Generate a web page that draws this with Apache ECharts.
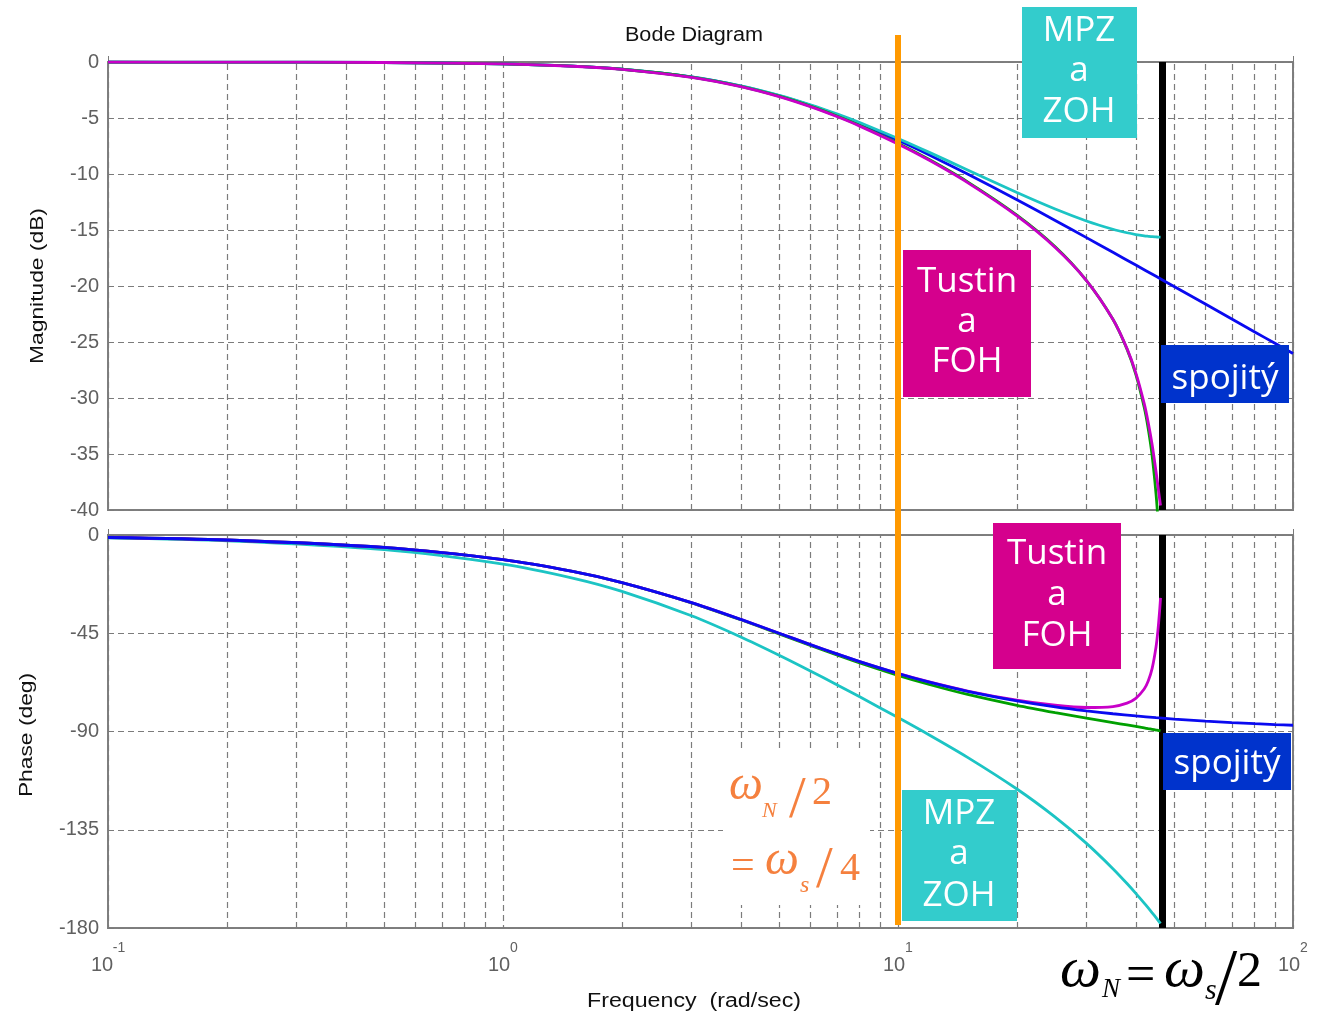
<!DOCTYPE html>
<html>
<head>
<meta charset="utf-8">
<title>Bode Diagram</title>
<script src="https://cdn.jsdelivr.net/npm/echarts@6/dist/echarts.min.js"></script>
<style>
  html, body { margin: 0; padding: 0; background: #fff; }
  #main { width: 1320px; height: 1013px; }
</style>
</head>
<body>
<div id="main"></div>
<script>
// continuous system (spojitý)
var freqCont = [0.1, 0.2, 0.5, 1, 1.5, 2, 3, 4, 5, 6, 7, 8, 10, 12, 15, 20, 25, 30, 35, 40, 45, 50, 60, 70, 80, 90, 100];
var magCont = [-0.002, -0.007, -0.043, -0.17, -0.374, -0.645, -1.335, -2.148, -3.01, -3.874, -4.713, -5.514, -6.99, -8.299, -10.0, -12.304, -14.15, -15.682, -16.99, -18.129, -19.138, -20.043, -21.614, -22.945, -24.099, -25.119, -26.031];
var phaseCont = [-1.15, -2.29, -5.71, -11.31, -16.7, -21.8, -30.96, -38.66, -45, -50.19, -54.46, -57.99, -63.43, -67.38, -71.57, -75.96, -78.69, -80.54, -81.87, -82.87, -83.66, -84.29, -85.24, -85.91, -86.42, -86.82, -87.14];

// discrete models, up to the Nyquist frequency
var freqDisc = [0.1, 0.2, 0.5, 1, 1.5, 2, 3, 4, 5, 6, 7, 8, 10, 12, 15, 20, 25, 30, 35, 38, 40, 42, 43, 44, 45, 45.5, 46, 46.2];
var magZoh = [-0.002, -0.007, -0.043, -0.169, -0.371, -0.638, -1.321, -2.122, -2.97, -3.816, -4.633, -5.411, -6.829, -8.068, -9.637, -11.655, -13.127, -14.193, -14.935, -15.246, -15.403, -15.52, -15.562, -15.6, -15.621, -15.63, -15.637, -15.639];
var phaseZoh = [-1.35, -2.69, -6.72, -13.33, -19.72, -25.83, -37.01, -46.72, -55.08, -62.29, -68.58, -74.12, -83.6, -91.58, -101.83, -116.34, -129.21, -141.24, -152.81, -159.61, -164.11, -168.58, -170.82, -173.05, -175.27, -176.39, -177.5, -177.94];
var magTustin = [-0.002, -0.007, -0.043, -0.17, -0.375, -0.646, -1.343, -2.168, -3.051, -3.943, -4.819, -5.666, -7.256, -8.713, -10.698, -13.672, -16.495, -19.51, -22.963, -25.635, -27.89, -30.83, -32.75, -35.18, -38.55, -40.89, -44.1, -45.79];
var phaseTustin = [-1.15, -2.29, -5.71, -11.31, -16.71, -21.83, -31.05, -38.83, -45.27, -50.57, -54.96, -58.61, -64.3, -68.48, -73.04, -78.04, -81.39, -83.89, -85.92, -87.0, -87.69, -88.35, -88.68, -89.0, -89.32, -89.48, -89.64, -89.71];
var magFoh = [-0.002, -0.007, -0.043, -0.174, -0.38, -0.657, -1.364, -2.199, -3.091, -3.99, -4.872, -5.723, -7.319, -8.78, -10.767, -13.74, -16.557, -19.51, -22.97, -25.59, -27.75, -30.48, -32.18, -34.18, -36.56, -37.86, -39.13, -39.6];
var phaseFoh = [-1.15, -2.29, -5.71, -11.31, -16.7, -21.8, -30.96, -38.65, -45.0, -50.19, -54.46, -57.97, -63.4, -67.32, -71.45, -75.65, -77.97, -79.01, -78.58, -77.02, -74.81, -70.55, -66.85, -61.07, -51.31, -43.83, -33.7, -28.77];

// minor log grid lines and the two marked frequencies
var minorFreqs = [0.2, 0.3, 0.4, 0.5, 0.6, 0.7, 0.8, 0.9, 2, 3, 4, 5, 6, 7, 8, 9, 20, 30, 40, 50, 60, 70, 80, 90];
var wNyquist = 46.6;
var wHalf = 10;

var UI_FONT = '"Liberation Sans", Arial, sans-serif';
var BOX_FONT = '"Open Sans", sans-serif';
var MATH_FONT = '"Liberation Serif", "Times New Roman", serif';
var GRID_GRAY = '#7c7c7c';
var LABEL_GRAY = '#606060';

function pairs(xs, ys) {
  return xs.map(function (x, i) { return [x, ys[i]]; });
}

function xAxisFor(i) {
  return {
    type: 'log', logBase: 10, min: 0.1, max: 100, gridIndex: i,
    axisLine: { show: false },
    axisTick: { show: true, inside: true, length: 6, lineStyle: { color: '#7a7a7a' } },
    splitLine: { show: true, lineStyle: { type: [6, 4], color: GRID_GRAY, width: 1.2 } },
    axisLabel: i === 1 ? {
      margin: 13,
      formatter: function (v) {
        var e = String(Math.round(Math.log10(v)));
        var k = e.length > 1 ? '2' : '1';
        return '{e' + k + '|' + e + '}\n{b' + k + '|10}';
      },
      rich: {
        b1: { fontSize: 20, fontFamily: UI_FONT, color: LABEL_GRAY, lineHeight: 20, padding: [0, 8, 0, 0] },
        b2: { fontSize: 20, fontFamily: UI_FONT, color: LABEL_GRAY, lineHeight: 20, padding: [0, 12, 0, 0] },
        e1: { fontSize: 14, fontFamily: UI_FONT, color: LABEL_GRAY, lineHeight: 14, padding: [0, 0, 0, 22] },
        e2: { fontSize: 14, fontFamily: UI_FONT, color: LABEL_GRAY, lineHeight: 14, padding: [0, 0, 0, 22] }
      }
    } : { show: false }
  };
}

function yAxisFor(i, min, step) {
  return {
    type: 'value', gridIndex: i, min: min, max: 0, interval: step,
    axisLine: { show: false },
    axisTick: { show: true, inside: true, length: 6, lineStyle: { color: '#7a7a7a' } },
    splitLine: { show: true, lineStyle: { type: [6, 4], color: GRID_GRAY, width: 1.2 } },
    axisLabel: { fontSize: 20, fontFamily: UI_FONT, color: LABEL_GRAY, margin: 9 }
  };
}

function curve(i, xs, ys, color, z) {
  return {
    type: 'line', xAxisIndex: i, yAxisIndex: i, data: pairs(xs, ys),
    showSymbol: false, symbol: 'none', smooth: 0.25, silent: true, z: z,
    lineStyle: { color: color, width: 2.8 }
  };
}

function minorGrid(i) {
  return {
    type: 'line', xAxisIndex: i, yAxisIndex: i, data: [], silent: true, z: 1,
    markLine: {
      silent: true, symbol: ['none', 'none'], label: { show: false }, animation: false,
      lineStyle: { type: [6, 4], color: GRID_GRAY, width: 1.2 },
      data: minorFreqs.map(function (f) { return { xAxis: f }; })
    }
  };
}

function nyquistLine(i) {
  return {
    type: 'line', xAxisIndex: i, yAxisIndex: i, data: [], silent: true, z: 20,
    markLine: {
      silent: true, symbol: ['none', 'none'], label: { show: false }, animation: false,
      lineStyle: { type: 'solid', color: '#000', width: 7 },
      data: [{ xAxis: wNyquist }]
    }
  };
}

var chart = echarts.init(document.getElementById('main'));

chart.setOption({
  animation: false,
  backgroundColor: '#fff',
  grid: [
    { left: 108, top: 62, width: 1185, height: 448, show: true, borderColor: '#7f7f7f', borderWidth: 2 },
    { left: 108, top: 535, width: 1185, height: 393, show: true, borderColor: '#7f7f7f', borderWidth: 2 }
  ],
  xAxis: [xAxisFor(0), xAxisFor(1)],
  yAxis: [yAxisFor(0, -40, 5), yAxisFor(1, -180, 45)],
  series: [
    minorGrid(0), minorGrid(1),
    curve(0, freqCont, magCont, '#0a0af0', 5),
    curve(0, freqDisc, magZoh, '#1cc4c4', 6),
    curve(0, freqDisc, magTustin, '#00a000', 7),
    curve(0, freqDisc, magFoh, '#c800c8', 8),
    curve(1, freqDisc, phaseZoh, '#1cc4c4', 5),
    curve(1, freqDisc, phaseTustin, '#00a000', 6),
    curve(1, freqDisc, phaseFoh, '#c800c8', 7),
    curve(1, freqCont, phaseCont, '#0a0af0', 8),
    nyquistLine(0), nyquistLine(1)
  ]
});

// annotations
function txt(text, x, y, font, fill, align, extra) {
  var el = {
    type: 'text', z: 100, silent: true,
    style: {
      text: text, x: x, y: y, font: font, fill: fill,
      align: align || 'center', textAlign: align || 'center',
      verticalAlign: 'middle', textVerticalAlign: 'middle'
    }
  };
  if (extra) { for (var k in extra) el[k] = extra[k]; }
  return el;
}

// math piece: text placed by its baseline
function mathPiece(text, x, base, size, italic, color) {
  var font = (italic ? 'italic ' : '') + size + 'px ' + MATH_FONT;
  return txt(text, x, base - size * 0.32, font, color, 'left');
}

var boxes = [
  { x: 1022, y: 7, w: 115, h: 131, fill: '#33cccc', cx: 1079, lines: ['MPZ', 'a', 'ZOH'], base: [43, 83, 124] },
  { x: 903, y: 250, w: 128, h: 147, fill: '#d5008d', cx: 967, lines: ['Tustin', 'a', 'FOH'], base: [294, 334, 374] },
  { x: 1161, y: 345, w: 128, h: 58, fill: '#0033cc', cx: 1225, lines: ['spojitý'], base: [391] },
  { x: 993, y: 523, w: 128, h: 146, fill: '#d5008d', cx: 1057, lines: ['Tustin', 'a', 'FOH'], base: [566, 607, 648] },
  { x: 1163, y: 733, w: 128, h: 57, fill: '#0033cc', cx: 1227, lines: ['spojitý'], base: [776] },
  { x: 902, y: 790, w: 115, h: 131, fill: '#33cccc', cx: 959, lines: ['MPZ', 'a', 'ZOH'], base: [826, 866, 908] }
];

var xHalf = chart.convertToPixel({ xAxisIndex: 0 }, wHalf);
var orange = '#f5803e';

var graphics = [
  txt('Bode Diagram', 0, 0, '20px ' + UI_FONT, '#111', 'center', { x: 694, y: 35, scaleX: 1.08 }),
  txt('Frequency  (rad/sec)', 0, 0, '20px ' + UI_FONT, '#111', 'center', { x: 694, y: 1001, scaleX: 1.16 }),
  txt('Magnitude (dB)', 0, 0, '19px ' + UI_FONT, '#111', 'center', { x: 38, y: 286, rotation: Math.PI / 2, scaleX: 1.2 }),
  txt('Phase (deg)', 0, 0, '19px ' + UI_FONT, '#111', 'center', { x: 27, y: 735, rotation: Math.PI / 2, scaleX: 1.2 }),
  { type: 'rect', z: 90, silent: true, shape: { x: 723, y: 752, width: 147, height: 153 }, style: { fill: '#fff' } },
  { type: 'rect', z: 95, silent: true, shape: { x: xHalf - 3, y: 35, width: 6, height: 890 }, style: { fill: '#ff9900' } },
  mathPiece('ω', 729, 802, 48, true, orange),
  mathPiece('N', 762, 818, 22, true, orange),
  mathPiece('/', 789, 820, 60, false, orange),
  mathPiece('2', 812, 806, 40, false, orange),
  mathPiece('=', 731, 880, 42, false, orange),
  mathPiece('ω', 765, 877, 48, true, orange),
  mathPiece('s', 800, 893, 24, true, orange),
  mathPiece('/', 816, 890, 60, false, orange),
  mathPiece('4', 840, 882, 40, false, orange),
  mathPiece('ω', 1060, 989, 58, true, '#000'),
  mathPiece('N', 1102, 999, 27, true, '#000'),
  mathPiece('=', 1126, 994, 52, false, '#000'),
  mathPiece('ω', 1164, 989, 58, true, '#000'),
  mathPiece('s', 1205, 1001, 30, true, '#000'),
  mathPiece('/', 1215, 1009, 80, false, '#000'),
  mathPiece('2', 1237, 989, 50, false, '#000')
];

boxes.forEach(function (b) {
  graphics.push({ type: 'rect', z: 98, silent: true, shape: { x: b.x, y: b.y, width: b.w, height: b.h }, style: { fill: b.fill } });
  b.lines.forEach(function (line, k) {
    graphics.push(txt(line, b.cx, b.base[k] - 12, '35px ' + BOX_FONT, '#fff'));
  });
});

chart.setOption({ graphic: graphics });
</script>
</body>
</html>
